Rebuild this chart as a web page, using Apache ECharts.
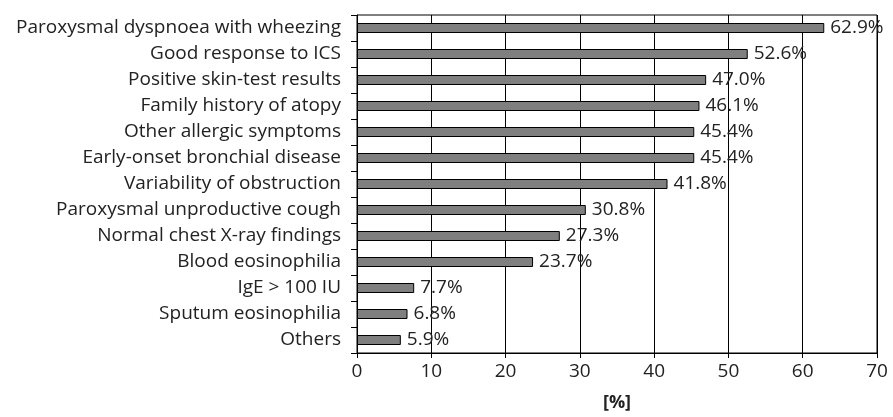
<!DOCTYPE html>
<html>
<head>
<meta charset="utf-8">
<script src="https://cdn.jsdelivr.net/npm/echarts@6/dist/echarts.min.js"></script>
<style>
  html, body { margin: 0; padding: 0; background: #fff; }
  #chart { width: 893px; height: 417px; }
</style>
</head>
<body>
<div id="chart"></div>
<script>
// symptoms, listed top to bottom
const categories = [
  "Paroxysmal dyspnoea with wheezing",
  "Good response to ICS",
  "Positive skin-test results",
  "Family history of atopy",
  "Other allergic symptoms",
  "Early-onset bronchial disease",
  "Variability of obstruction",
  "Paroxysmal unproductive cough",
  "Normal chest X-ray findings",
  "Blood eosinophilia",
  "IgE > 100 IU",
  "Sputum eosinophilia",
  "Others"
];
const percents = [62.9, 52.6, 47.0, 46.1, 45.4, 45.4, 41.8, 30.8, 27.3, 23.7, 7.7, 6.8, 5.9];

const font = "'Open Sans', sans-serif";

let myChart = echarts.init(document.getElementById("chart"));
myChart.setOption({
  animation: false,
  grid: { left: 357, right: 16, top: 15, bottom: 62, show: true, borderColor: "#000", borderWidth: 1 },
  xAxis: {
    type: "value",
    min: 0,
    max: 70,
    interval: 10,
    name: "[%]",
    nameLocation: "middle",
    nameGap: 41,
    nameTextStyle: { fontFamily: font, fontSize: 18, fontWeight: "bold", color: "#222" },
    axisLine: { show: true, lineStyle: { color: "#000" } },
    axisTick: { show: true, length: 5, lineStyle: { color: "#000" } },
    axisLabel: { fontFamily: font, fontSize: 19, color: "#222", margin: 9 },
    splitLine: { show: true, lineStyle: { color: "#000", width: 1 } }
  },
  yAxis: {
    type: "category",
    inverse: true,
    data: categories,
    axisLine: { show: true, lineStyle: { color: "#000" } },
    axisTick: { show: true, length: 6, lineStyle: { color: "#000" } },
    axisLabel: { fontFamily: font, fontSize: 19, color: "#222", margin: 16 }
  },
  series: [
    {
      type: "bar",
      data: percents,
      barWidth: 10,
      itemStyle: { color: "#7f7f7f", borderColor: "#000", borderWidth: 1 },
      label: {
        show: true,
        position: "right",
        distance: 6,
        fontFamily: font,
        fontSize: 19,
        color: "#222",
        formatter: p => p.value.toFixed(1) + "%"
      }
    }
  ]
});
</script>
</body>
</html>
